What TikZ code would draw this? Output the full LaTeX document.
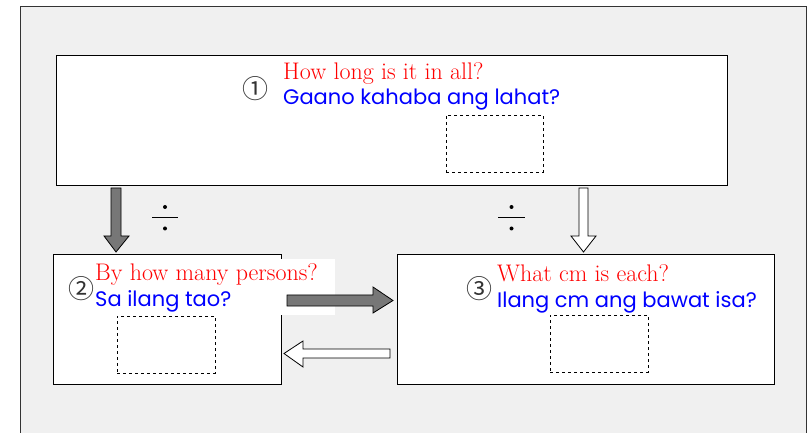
\documentclass[tikz,border=0pt]{standalone}
\usepackage{fontspec}
\newfontfamily\bluefont{Poppins}
\newfontfamily\circfont{Noto Sans CJK JP}
\definecolor{bgfill}{HTML}{F0F0F0}
\definecolor{framecol}{HTML}{333333}
\definecolor{arrowgray}{HTML}{777777}
\definecolor{qred}{HTML}{FF0000}
\definecolor{qblue}{HTML}{0000FF}
\tikzset{
  box/.style={draw=black, fill=white, line width=0.9pt, inner sep=0pt},
  dashbox/.style={draw=black, dashed, line width=0.8pt, inner sep=0pt},
  redtxt/.style={anchor=base west, inner sep=0pt, text=qred, font=\fontsize{24}{28}\selectfont},
  bluetxt/.style={anchor=base west, inner sep=0pt, text=qblue, font=\bluefont\fontsize{21}{25}\selectfont},
  circnum/.style={inner sep=0pt, text=black!80, font=\circfont\fontsize{26}{26}\selectfont},
  divline/.style={draw=black, line width=1.1pt},
  divdot/.style={fill=black},
  grayarrow/.style={draw=black, fill=arrowgray, line width=0.8pt, line join=miter},
  whitearrow/.style={draw=black, fill=white, line width=0.8pt, line join=miter}
}
\begin{document}
\begin{tikzpicture}[x=1pt,y=-1pt]
\useasboundingbox (0,0) rectangle (807,433);
\fill[white] (0,0) rectangle (807,433);
\fill[bgfill] (20,7) rectangle (806,433);
\draw[framecol, line width=1pt] (20,433) -- (20,7) -- (806,7) -- (806,433);

% boxes
\node[box, minimum width=671pt, minimum height=130pt] (b1) at (391.5,120) {};
\node[box, minimum width=228pt, minimum height=130pt] (b2) at (167,319) {};
\node[box, minimum width=377pt, minimum height=130pt] (b3) at (585.5,319) {};

% answer boxes
\node[dashbox, minimum width=97pt, minimum height=57pt] (d1) at (494.5,143.5) {};
\node[dashbox, minimum width=98pt, minimum height=57pt] (d2) at (166,344.5) {};
\node[dashbox, minimum width=98pt, minimum height=57pt] (d3) at (599,343.5) {};

% white background behind text of box 2
\fill[white] (92,259) rectangle (335,315);

% texts box 1
\node[circnum] (n1) at (255,89) {①};
\node[redtxt] (r1) at (283,80) {How long is it in all?};
\node[bluetxt] (g1) at (283,105) {Gaano kahaba ang lahat?};

% texts box 2
\node[circnum] (n2) at (81,289) {②};
\node[redtxt] (r2) at (95,280) {By how many persons?};
\node[bluetxt] (g2) at (95,306) {Sa ilang tao?};

% texts box 3
\node[circnum] (n3) at (479,289) {③};
\node[redtxt] (r3) at (497,281) {What cm is each?};
\node[bluetxt] (g3) at (497,308) {Ilang cm ang bawat isa?};

% division signs
\draw[divline] (152,217.5) -- (178,217.5);
\fill[divdot] (165,207) circle (2pt);
\fill[divdot] (165,228.5) circle (2pt);
\draw[divline] (498,217.5) -- (525,217.5);
\fill[divdot] (511.5,207) circle (2pt);
\fill[divdot] (511.5,228.5) circle (2pt);

% block arrows
\draw[grayarrow] (111,188) -- (121,188) -- (121,236) -- (129,236) -- (116,252) -- (104,236) -- (111,236) -- cycle;
\draw[whitearrow] (579,188) -- (588,188) -- (588,236) -- (596,236) -- (583.5,252) -- (571,236) -- (579,236) -- cycle;
\draw[grayarrow] (287,295) -- (373,295) -- (373,287) -- (393,300.5) -- (373,313) -- (373,306) -- (287,306) -- cycle;
\draw[whitearrow] (390,349) -- (303,349) -- (303,341) -- (284,353.5) -- (303,367) -- (303,358) -- (390,358) -- cycle;
\end{tikzpicture}
\end{document}
